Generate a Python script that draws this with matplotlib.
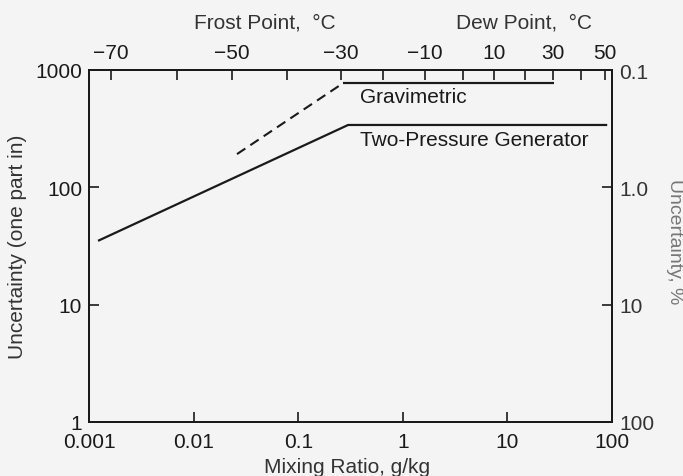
import matplotlib
matplotlib.use("Agg")
import matplotlib.pyplot as plt

plt.rcParams['font.family'] = ['Liberation Sans', 'DejaVu Sans']

# Two-pressure generator uncertainty (one part in) vs mixing ratio (g/kg)
tp_mix = [0.00122, 0.30, 90.0]
tp_unc = [35.0, 340.0, 340.0]

# Gravimetric: extrapolated (dashed) part and measured (solid) part
grav_ext_mix = [0.026, 0.27]
grav_ext_unc = [192.0, 775.0]
grav_mix = [0.27, 28.0]
grav_unc = [775.0, 775.0]

# Bottom / left axis ticks
x_ticks = [0.001, 0.01, 0.1, 1, 10, 100]
x_labels = ["0.001", "0.01", "0.1", "1", "10", "100"]
y_ticks = [1, 10, 100, 1000]
y_labels = ["1", "10", "100", "1000"]
# Right axis: same positions expressed as percent uncertainty
pct_labels = ["100", "10", "1.0", "0.1"]

# Top axis: frost / dew point temperatures at their mixing ratios
temp_c = [-70, -60, -50, -40, -30, -20, -10, 0, 10, 20, 30, 40, 50]
temp_mix = [0.00162, 0.0070, 0.0233, 0.0782, 0.256, 0.647, 1.63, 3.77,
            7.45, 14.7, 27.3, 50.6, 85.7]
temp_labeled = [-70, -50, -30, -10, 10, 30, 50]

W, H = 683, 477
fig = plt.figure(figsize=(W / 100, H / 100), dpi=100)
bg = '#f4f4f4'
fig.patch.set_facecolor(bg)

ax = fig.add_axes([89 / W, 1 - 423 / H, (612 - 89) / W, (423 - 71) / H])
ax.set_facecolor(bg)
ax.set_xscale('log')
ax.set_yscale('log')
ax.set_xlim(0.001, 100)
ax.set_ylim(1, 1000)

ink = '#1a1a1a'
fs = 15

ax.plot(tp_mix, tp_unc, color=ink, lw=1.6, solid_capstyle='butt')
ax.plot(grav_ext_mix, grav_ext_unc, color=ink, lw=1.5, dashes=(4.8, 2.9))
ax.plot(grav_mix, grav_unc, color=ink, lw=1.6, solid_capstyle='butt')

ax.text(0.39, 600, "Gravimetric", fontsize=fs, color=ink,
        ha='left', va='center')
ax.text(0.39, 258, "Two-Pressure Generator", fontsize=fs, color=ink,
        ha='left', va='center')

for s in ax.spines.values():
    s.set_color(ink)
    s.set_linewidth(1.3)

ax.set_xticks(x_ticks)
ax.set_xticklabels(x_labels)
ax.set_yticks(y_ticks)
ax.set_yticklabels(y_labels)
ax.minorticks_off()
ax.tick_params(axis='x', direction='in', length=7, width=1.2, color=ink,
               labelsize=fs, labelcolor=ink, pad=7)
ax.tick_params(axis='y', direction='in', length=7, width=1.2, color=ink,
               labelsize=fs, labelcolor=ink, pad=5)

# Right axis in percent
axr = ax.twinx()
axr.set_yscale('log')
axr.set_ylim(1, 1000)
axr.set_yticks(y_ticks)
axr.set_yticklabels(pct_labels)
axr.minorticks_off()
axr.tick_params(axis='y', direction='in', length=7, width=1.2, color=ink,
                labelsize=fs, labelcolor='#333333', pad=5)

# Top axis in frost / dew point
axt = ax.twiny()
axt.set_xscale('log')
axt.set_xlim(0.001, 100)
axt.set_xticks(temp_mix)
axt.set_xticklabels([("\u2212" + str(-t) if t < 0 else str(t))
                     if t in temp_labeled else "" for t in temp_c])
axt.minorticks_off()
axt.tick_params(axis='x', direction='in', length=7, width=1.2, color=ink,
                labelsize=fs, labelcolor=ink, pad=6)
for a in (axr, axt):
    for s in a.spines.values():
        s.set_color(ink)
        s.set_linewidth(1.3)

# Axis titles
fig.text(347 / W, 1 - 468 / H, "Mixing Ratio, g/kg", fontsize=fs,
         color='#333333', ha='center', va='center')
fig.text(18 / W, 1 - 247 / H, "Uncertainty (one part in)", fontsize=fs,
         color='#333333', ha='center', va='center', rotation=90)
fig.text(675 / W, 1 - 242 / H, "Uncertainty, %", fontsize=fs - 1,
         color='#777777', ha='center', va='center', rotation=270)
fig.text(265 / W, 1 - 23 / H, "Frost Point,  \u00b0C", fontsize=fs,
         color='#333333', ha='center', va='center')
fig.text(524 / W, 1 - 23 / H, "Dew Point,  \u00b0C", fontsize=fs,
         color='#333333', ha='center', va='center')

fig.savefig("out.png", dpi=100, facecolor=bg)
